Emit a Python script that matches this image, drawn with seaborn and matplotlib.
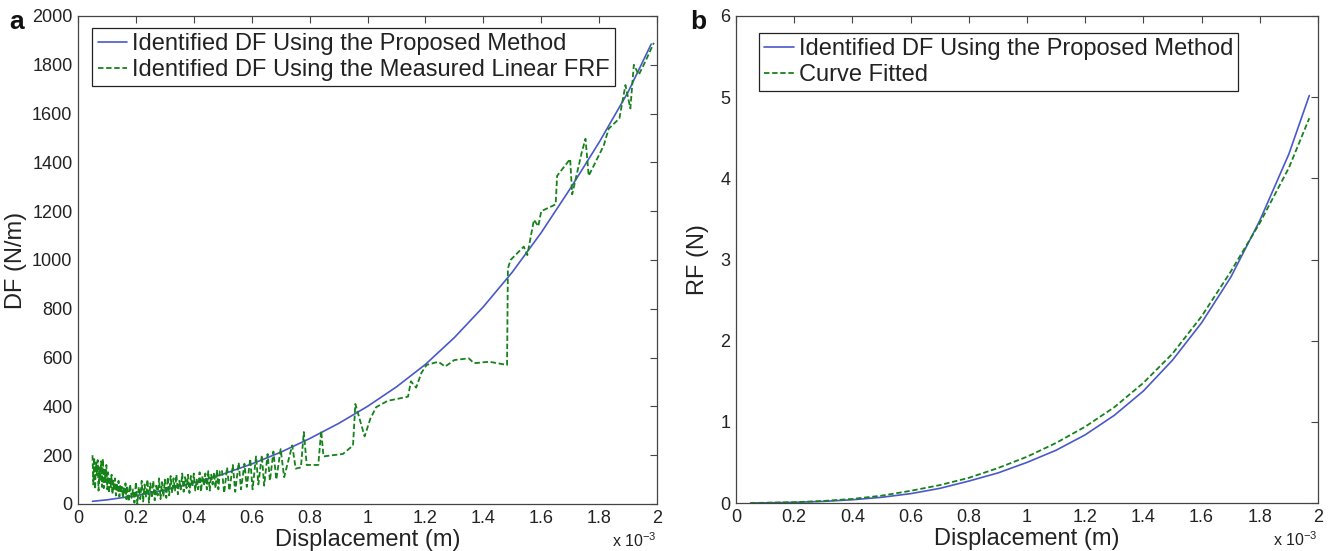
import matplotlib
matplotlib.use("Agg")
import matplotlib.pyplot as plt
import seaborn as sns
from matplotlib.ticker import FuncFormatter, MultipleLocator

# ---------------- data (displacement in units of 1e-3 m) ----------------
# Panel a: identified DF using the proposed method (smooth)
a_blue_x = [0.05, 0.1, 0.2, 0.3, 0.4, 0.5, 0.6, 0.7, 0.8, 0.9, 1.0, 1.1, 1.2,
            1.3, 1.4, 1.5, 1.6, 1.7, 1.8, 1.9, 1.98]
a_blue_y = [11, 17, 34, 57, 87, 122, 164, 212, 268, 330, 400, 480, 572,
            682, 808, 950, 1112, 1292, 1482, 1688, 1885]

# Panel a: identified DF using the measured linear FRF (noisy)
a_green_x = [
    0.050, 0.053, 0.056, 0.059, 0.062, 0.065, 0.068, 0.071, 0.074, 0.077,
    0.080, 0.083, 0.086, 0.089, 0.092, 0.095, 0.098,
    0.101, 0.104, 0.107, 0.110, 0.113, 0.116, 0.119, 0.122, 0.125, 0.128,
    0.131, 0.134, 0.137, 0.140, 0.143, 0.146, 0.149, 0.152, 0.155, 0.158,
    0.161, 0.164, 0.167,
    0.170, 0.175, 0.180, 0.185, 0.190, 0.195, 0.200, 0.205, 0.210, 0.215,
    0.220, 0.225, 0.230, 0.235, 0.240, 0.245, 0.250, 0.255, 0.260, 0.265,
    0.270, 0.275, 0.280, 0.285, 0.290, 0.295, 0.300, 0.305, 0.310, 0.315,
    0.320, 0.325, 0.330, 0.335, 0.340, 0.345, 0.350, 0.355, 0.360, 0.365,
    0.370, 0.375, 0.380, 0.385, 0.390, 0.395, 0.400, 0.405, 0.410, 0.415,
    0.420, 0.425, 0.430, 0.435, 0.440, 0.445, 0.450, 0.455, 0.460, 0.465,
    0.470, 0.475, 0.480, 0.485, 0.490,
    0.497, 0.505, 0.515, 0.523, 0.535, 0.543, 0.555, 0.563, 0.575, 0.583,
    0.595, 0.603, 0.615, 0.623, 0.635, 0.643, 0.655, 0.663, 0.675, 0.685,
    0.700, 0.712, 0.740, 0.752, 0.770, 0.780, 0.790, 0.830, 0.840, 0.848,
    0.880, 0.915, 0.950, 0.958, 0.990, 1.010, 1.030, 1.070, 1.100, 1.140,
    1.150, 1.168, 1.186, 1.204, 1.245, 1.268, 1.300, 1.350, 1.368, 1.420,
    1.482, 1.485, 1.494, 1.540, 1.552, 1.575, 1.590, 1.600, 1.650, 1.655,
    1.700, 1.707, 1.740, 1.753, 1.764, 1.816, 1.833, 1.870, 1.891, 1.908,
    1.920, 1.937, 1.960, 1.989]
a_green_y = [
    200, 80, 190, 60, 170, 120, 180, 55, 150, 95,
    175, 70, 185, 65, 140, 90, 160,
    60, 130, 45, 110, 70, 120, 40, 95, 55, 105,
    35, 85, 50, 95, 30, 80, 45, 70, 25, 65,
    40, 85, 20,
    75, 10, 80, 25, 60, 5, 90, 0, 70, 20,
    95, 10, 80, 30, 100, 5, 85, 25, 95, 15,
    75, 35, 105, 20, 90, 30, 100, 25, 110, 35,
    115, 45, 105, 55, 120, 40, 95, 60, 125, 50,
    110, 65, 120, 45, 115, 70, 125, 55, 100, 60,
    130, 50, 115, 75, 125, 60, 135, 55, 120, 80,
    130, 65, 140, 60, 135,
    140, 45, 150, 55, 160, 50, 170, 60, 165, 70,
    185, 60, 195, 80, 200, 75, 205, 95, 215, 100,
    225, 110, 240, 145, 150, 295, 160, 160, 300, 195,
    200, 205, 240, 410, 277, 350, 397, 423, 430, 440,
    503, 477, 537, 570, 583, 563, 590, 597, 577, 583,
    570, 965, 1000, 1055, 1020, 1165, 1138, 1200, 1228, 1345,
    1414, 1269, 1441, 1497, 1345, 1469, 1538, 1580, 1717, 1621,
    1800, 1759, 1814, 1890]

# Panel b: restoring force
b_x = [0.05, 0.1, 0.2, 0.3, 0.4, 0.5, 0.6, 0.7, 0.8, 0.9, 1.0, 1.1, 1.2,
       1.3, 1.4, 1.5, 1.6, 1.7, 1.8, 1.9, 1.97]
b_blue_y = [0.0, 0.002, 0.008, 0.02, 0.04, 0.07, 0.115, 0.18, 0.27, 0.37, 0.50,
            0.65, 0.84, 1.08, 1.38, 1.76, 2.22, 2.78, 3.48, 4.30, 5.02]
b_green_y = [0.0, 0.003, 0.01, 0.025, 0.05, 0.09, 0.15, 0.22, 0.31, 0.43, 0.57,
             0.74, 0.94, 1.18, 1.48, 1.84, 2.30, 2.85, 3.45, 4.13, 4.74]

a_labels = ["Identified DF Using the Proposed Method",
            "Identified DF Using the Measured Linear FRF"]
b_labels = ["Identified DF Using the Proposed Method", "Curve Fitted"]

# ---------------- style ----------------
sns.set_style("white")
plt.rcParams["font.family"] = ["Liberation Sans", "DejaVu Sans"]
plt.rcParams["mathtext.fontset"] = "custom"
plt.rcParams["mathtext.rm"] = "Liberation Sans"
plt.rcParams["mathtext.it"] = "Liberation Sans"

BLUE = "#4a58c8"
GREEN = "#16821a"
TXT = "#222222"
SPINE = "#444444"

fig = plt.figure(figsize=(13.28, 5.51), dpi=100)
W, H = 1328.0, 551.0
ax1 = fig.add_axes([78 / W, 1 - 504 / H, (657 - 78) / W, (504 - 16) / H])
ax2 = fig.add_axes([736 / W, 1 - 503 / H, (1318 - 736) / W, (503 - 16) / H])

fmt = FuncFormatter(lambda v, p: "%g" % round(v, 6))


def style(ax, ymax, ystep):
    ax.set_xlim(0, 2)
    ax.set_ylim(0, ymax)
    ax.xaxis.set_major_locator(MultipleLocator(0.2))
    ax.yaxis.set_major_locator(MultipleLocator(ystep))
    ax.xaxis.set_major_formatter(fmt)
    ax.yaxis.set_major_formatter(fmt)
    ax.tick_params(direction="in", top=True, right=True, length=5, width=0.8,
                   labelsize=13, colors=SPINE, labelcolor=TXT, pad=4)
    for s in ax.spines.values():
        s.set_color(SPINE)
        s.set_linewidth(0.9)
        s.set_visible(True)
    ax.set_xlabel("Displacement (m)", fontsize=17, color=TXT, labelpad=2)
    ax.text(1.0, -0.088, r"x 10$^{-3}$", transform=ax.transAxes, ha="right",
            va="baseline", fontsize=11.5, color=TXT)


# Panel a
sns.lineplot(x=a_blue_x, y=a_blue_y, ax=ax1, color=BLUE, lw=1.2,
             label=a_labels[0], estimator=None, sort=False)
sns.lineplot(x=a_green_x, y=a_green_y, ax=ax1, color=GREEN, lw=1.3,
             linestyle=(0, (3, 1.5)), label=a_labels[1], estimator=None, sort=False)
style(ax1, 2000, 200)
ax1.set_ylabel("DF (N/m)", fontsize=17, color=TXT, labelpad=4)

# Panel b
sns.lineplot(x=b_x, y=b_blue_y, ax=ax2, color=BLUE, lw=1.2,
             label=b_labels[0], estimator=None, sort=False)
sns.lineplot(x=b_x, y=b_green_y, ax=ax2, color=GREEN, lw=1.3,
             linestyle=(0, (3, 1.5)), label=b_labels[1], estimator=None, sort=False)
style(ax2, 6, 1)
ax2.set_ylabel("RF (N)", fontsize=17, color=TXT, labelpad=8)

for ax, anchor in ((ax1, (0.025, 0.975)), (ax2, (0.04, 0.965))):
    leg = ax.legend(loc="upper left", bbox_to_anchor=anchor, frameon=True,
                    fancybox=False, framealpha=1, edgecolor="#222222",
                    fontsize=17, handlelength=1.25, handletextpad=0.2,
                    borderpad=0.22, labelspacing=0.15, borderaxespad=0)
    leg.get_frame().set_linewidth(0.9)
    for t in leg.get_texts():
        t.set_color(TXT)

fig.text(9 / W, 1 - 22 / H, "a", fontsize=19, fontweight="bold", va="center", color="#111111")
fig.text(690 / W, 1 - 22 / H, "b", fontsize=19, fontweight="bold", va="center", color="#111111")

fig.savefig("out.png", dpi=100, facecolor="white")
